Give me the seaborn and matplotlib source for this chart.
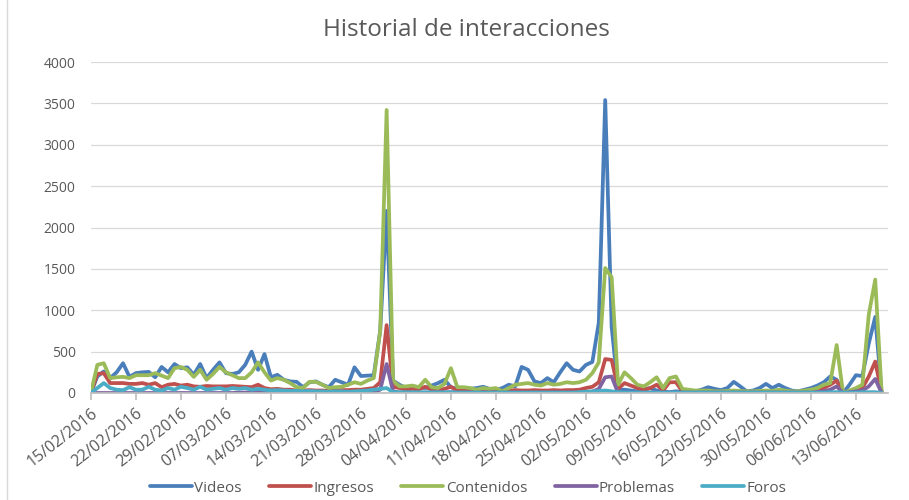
import matplotlib
matplotlib.use("Agg")
import matplotlib.pyplot as plt
import matplotlib.dates as mdates
from matplotlib.lines import Line2D
import pandas as pd
import seaborn as sns

# daily values, 15/02/2016 onwards
videos = [
    0, 200, 260, 180, 250, 360, 195, 240, 250, 255,
    190, 315, 250, 350, 300, 310, 220, 350, 180, 280,
    370, 240, 230, 250, 340, 500, 280, 470, 190, 220,
    160, 140, 135, 70, 130, 140, 100, 70, 160, 130,
    100, 310, 205, 210, 215, 750, 2200, 150, 100, 60,
    80, 70, 60, 90, 120, 160, 70, 50, 40, 50,
    60, 75, 50, 35, 60, 100, 80, 315, 280, 140,
    120, 180, 130, 250, 360, 280, 260, 340, 375, 850,
    3540, 800, 40, 40, 30, 20, 40, 60, 30, 20,
    10, 20, 15, 10, 20, 40, 70, 50, 35, 60,
    135, 80, 20, 30, 60, 110, 60, 100, 60, 30,
    20, 40, 60, 90, 130, 200, 160, 0, 100, 215,
    205, 600, 920, 0,
]
ingresos = [
    0, 230, 240, 120, 120, 120, 110, 110, 120, 100,
    120, 70, 100, 110, 90, 100, 80, 75, 85, 80,
    80, 80, 85, 80, 75, 70, 100, 60, 45, 50,
    40, 40, 30, 30, 35, 30, 30, 25, 30, 35,
    35, 40, 40, 50, 60, 130, 820, 75, 60, 40,
    50, 45, 75, 40, 35, 50, 75, 30, 30, 25,
    30, 30, 25, 20, 20, 30, 35, 30, 30, 35,
    30, 30, 35, 30, 35, 35, 40, 60, 75, 130,
    410, 400, 50, 120, 90, 60, 40, 60, 100, 30,
    130, 130, 20, 15, 15, 10, 15, 15, 10, 15,
    20, 15, 10, 10, 15, 20, 15, 20, 15, 10,
    15, 20, 30, 40, 60, 100, 150, 0, 20, 30,
    60, 200, 380, 0,
]
contenidos = [
    0, 340, 360, 180, 190, 195, 180, 215, 215, 215,
    240, 210, 180, 300, 315, 280, 195, 280, 160, 230,
    315, 250, 215, 180, 180, 250, 370, 250, 150, 180,
    160, 120, 70, 60, 135, 135, 100, 60, 70, 75,
    100, 130, 110, 150, 180, 750, 3420, 150, 80, 80,
    90, 70, 160, 70, 60, 110, 300, 70, 70, 60,
    40, 60, 50, 60, 20, 60, 100, 110, 120, 100,
    90, 120, 100, 110, 130, 120, 130, 160, 240, 370,
    1510, 1400, 100, 250, 180, 100, 80, 130, 190, 60,
    180, 200, 50, 40, 30, 30, 30, 20, 20, 25,
    30, 25, 20, 20, 25, 30, 25, 40, 30, 20,
    20, 30, 40, 60, 100, 120, 580, 0, 30, 60,
    100, 950, 1370, 0,
]
problemas = [
    0, 0, 0, 0, 0, 0, 0, 0, 0, 0,
    0, 0, 0, 0, 0, 0, 0, 0, 0, 0,
    0, 0, 0, 5, 5, 10, 20, 10, 5, 5,
    5, 5, 5, 5, 5, 5, 5, 5, 5, 5,
    5, 5, 5, 10, 15, 40, 350, 20, 5, 5,
    5, 5, 5, 5, 5, 5, 10, 5, 5, 5,
    5, 5, 5, 5, 5, 5, 5, 5, 5, 5,
    5, 5, 5, 5, 5, 5, 5, 10, 15, 50,
    190, 200, 0, 5, 5, 5, 5, 5, 10, 5,
    5, 5, 5, 5, 5, 5, 5, 5, 5, 5,
    5, 5, 5, 5, 5, 5, 5, 5, 5, 5,
    5, 5, 5, 10, 20, 40, 80, 0, 10, 20,
    30, 80, 170, 0,
]
foros = [
    0, 60, 120, 60, 40, 35, 70, 40, 40, 75,
    40, 30, 60, 40, 75, 60, 40, 75, 40, 50,
    60, 40, 60, 50, 60, 40, 50, 40, 30, 35,
    30, 25, 25, 20, 25, 20, 20, 15, 20, 20,
    15, 20, 25, 30, 40, 50, 60, 10, 10, 8,
    8, 8, 8, 8, 8, 8, 8, 5, 5, 5,
    5, 5, 5, 5, 5, 5, 5, 5, 5, 5,
    5, 5, 5, 5, 5, 5, 10, 15, 20, 25,
    30, 20, 10, 5, 5, 5, 5, 5, 5, 5,
    5, 5, 5, 5, 5, 5, 5, 5, 5, 5,
    5, 5, 5, 5, 5, 5, 5, 5, 5, 5,
    5, 5, 5, 5, 5, 10, 10, 5, 5, 5,
    10, 10, 10, 0,
]

series_names = ["Videos", "Ingresos", "Contenidos", "Problemas", "Foros"]
colors = ["#4A7EBB", "#C0504D", "#9BBB59", "#8064A2", "#4BACC6"]
fechas = pd.date_range("2016-02-15", periods=len(videos), freq="D")

df = pd.DataFrame({
    "fecha": fechas,
    "Videos": videos,
    "Ingresos": ingresos,
    "Contenidos": contenidos,
    "Problemas": problemas,
    "Foros": foros,
}).melt(id_vars="fecha", var_name="serie", value_name="valor")

sns.set_theme(style="white")
plt.rcParams["font.family"] = ["Open Sans", "DejaVu Sans"]
plt.rcParams["lines.solid_joinstyle"] = "round"

fig, ax = plt.subplots(figsize=(9.09, 5.0), dpi=100)
fig.subplots_adjust(left=0.1, right=0.977, bottom=0.214, top=0.876)

sns.lineplot(data=df, x="fecha", y="valor", hue="serie", hue_order=series_names,
             palette=dict(zip(series_names, colors)), linewidth=2.7, ax=ax, legend=False)

ax.set_ylim(0, 4000)
ax.set_yticks(range(0, 4001, 500))
ax.set_xlim(fechas[0], fechas[0] + pd.Timedelta(days=124))
ticks = pd.date_range("2016-02-15", "2016-06-13", freq="7D")
ax.set_xticks(ticks)
ax.xaxis.set_major_formatter(mdates.DateFormatter("%d/%m/%Y"))
plt.setp(ax.get_xticklabels(), rotation=38, ha="right", rotation_mode="anchor")

ax.grid(axis="y", color="#D9D9D9", linewidth=0.9)
ax.set_axisbelow(True)
for s in ["left", "right", "top"]:
    ax.spines[s].set_visible(False)
ax.spines["bottom"].set_color("#BFBFBF")
ax.tick_params(axis="x", bottom=True, length=5, color="#BFBFBF", labelsize=11.5,
               labelcolor="#595959", pad=4)
ax.tick_params(axis="y", left=False, length=0, labelsize=10, labelcolor="#595959", pad=11)
ax.set_xlabel("")
ax.set_ylabel("")

fig.text(0.513, 0.94, "Historial de interacciones", ha="center", va="center",
         fontsize=17.5, color="#595959")

handles = [Line2D([], [], color=c, linewidth=2.7) for c in colors]
fig.legend(handles, series_names, loc="center", bbox_to_anchor=(0.515, 0.024), ncol=5,
           frameon=False, handlelength=2.75, columnspacing=1.8, handletextpad=0.15,
           fontsize=11, labelcolor="#595959")

# chart area border on the left
fig.add_artist(Line2D([0.008, 0.008], [0, 1], transform=fig.transFigure, color="#D9D9D9", linewidth=1))

fig.savefig("out.png", dpi=100)
